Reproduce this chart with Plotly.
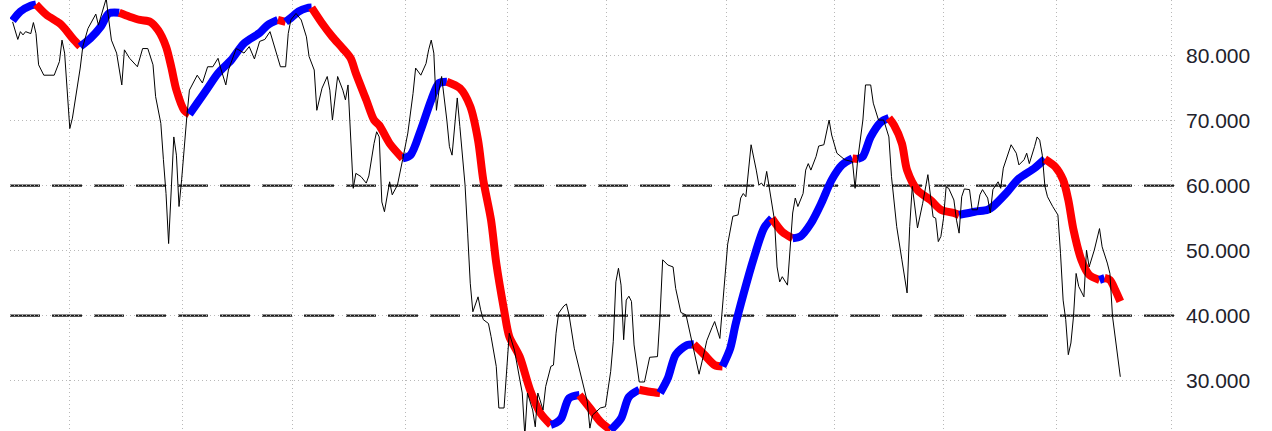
import plotly.graph_objects as go

# ---- data ----
bar_index = [1, 3, 4, 5, 6, 8, 9, 10, 11, 13, 17, 19, 20, 21, 23, 24, 27, 28, 30, 33, 34, 36, 37, 38, 39, 41, 43, 44, 46, 49,
             51, 53, 55, 56, 58, 59, 60, 61, 62, 63, 64, 65, 66, 67, 68, 69, 70, 72, 74, 76, 78, 80, 81, 83, 84, 87, 88, 90, 92, 94,
             96, 98, 100, 102, 104, 106, 107, 108, 110, 112, 114, 115, 117, 118, 120, 122, 123, 124, 126, 128, 129, 130, 131, 132, 133, 135, 137, 138, 140, 141,
             142, 143, 144, 145, 146, 147, 149, 151, 153, 155, 156, 158, 160, 161, 162, 163, 164, 165, 166, 168, 169, 170, 171, 172, 173, 175, 176, 177, 178, 180,
             181, 182, 184, 185, 187, 188, 190, 191, 192, 194, 196, 197, 198, 199, 201, 202, 203, 205, 206, 208, 209, 210, 211, 213, 214, 215, 217, 220, 222, 223,
             224, 227, 229, 231, 232, 233, 234, 235, 236, 237, 238, 239, 240, 242, 244, 246, 249, 250, 251, 253, 255, 256, 258, 260, 261, 263, 265, 267, 268, 270,
             271, 273, 274, 275, 276, 278, 280, 281, 282, 283, 284, 285, 287, 288, 289, 290, 291, 292, 294, 295, 296, 297, 299, 301, 302, 303, 305, 306, 307, 308,
             310, 311, 313, 315, 316, 318, 319, 321, 324, 325, 326, 328, 329, 331, 332, 334, 336, 338, 339, 341, 343, 345, 346, 347, 349, 351, 353, 355, 356, 357,
             358, 359, 360, 361, 363, 364, 365, 366, 367, 369, 370, 372, 373, 374, 376, 377, 378, 380, 381, 382, 385, 387, 388, 390, 391, 392, 394, 395, 396, 397,
             398, 399, 401, 403, 404, 405, 406, 407, 408, 409, 410, 411, 413, 414, 415, 417, 419, 420, 422, 423, 424, 426, 427]
rsi_values = [85.2, 82.5, 83.7, 83.2, 83.7, 83.4, 85.1, 83.4, 78.6, 77.0, 77.0, 79.1, 82.4, 80.4, 68.8, 70.4, 78.1, 81.4, 84.2, 86.4, 84.7, 87.5, 88.8, 85.5, 82.4, 80.4, 75.5, 80.9, 79.6, 78.3,
              81.1, 81.1, 78.6, 73.7, 69.6, 64.0, 58.8, 51.1, 58.8, 67.5, 64.7, 56.8, 60.9, 66.5, 70.6, 74.7, 75.5, 77.0, 75.8, 78.3, 78.3, 79.6, 78.1, 75.5, 77.8, 81.1, 80.9, 80.4, 81.4, 79.5,
              82.2, 82.5, 83.7, 80.9, 78.3, 78.3, 83.4, 85.5, 86.5, 85.5, 82.9, 79.9, 77.8, 71.6, 75.0, 76.8, 74.7, 70.1, 76.8, 74.7, 73.2, 75.5, 68.1, 59.6, 61.9, 61.4, 60.4, 61.5, 66.5, 68.3,
              67.5, 57.5, 56.0, 58.3, 60.6, 58.6, 60.1, 64.0, 68.1, 74.2, 78.1, 77.0, 78.8, 80.9, 82.4, 80.4, 71.6, 74.7, 76.8, 70.1, 66.0, 64.7, 69.1, 73.5, 69.1, 60.1, 52.7, 45.0, 40.6, 42.9,
              40.9, 39.4, 38.8, 36.8, 32.2, 25.8, 25.8, 32.2, 37.3, 34.7, 30.6, 28.1, 21.5, 28.1, 25.5, 22.9, 28.1, 25.5, 29.1, 32.2, 32.4, 37.3, 40.4, 41.5, 41.8, 40.1, 35.0, 29.8, 26.8, 22.7,
              24.7, 25.8, 26.0, 31.4, 36.0, 45.2, 47.3, 44.7, 36.3, 42.4, 43.0, 42.2, 35.5, 29.8, 29.8, 33.6, 33.7, 40.1, 48.6, 47.8, 47.5, 44.2, 40.5, 40.1, 38.3, 35.0, 31.0, 34.4, 36.2, 38.2,
              39.1, 36.5, 41.0, 45.2, 51.0, 55.3, 55.5, 58.1, 58.8, 58.3, 62.2, 66.3, 62.4, 60.1, 60.4, 59.9, 62.2, 59.9, 54.7, 47.5, 45.2, 46.0, 44.7, 55.8, 58.1, 56.8, 58.8, 62.4, 63.4, 62.4,
              64.5, 66.1, 66.3, 70.1, 67.8, 65.0, 64.7, 64.0, 63.7, 59.6, 64.0, 70.1, 75.5, 75.5, 72.7, 70.1, 70.1, 67.5, 61.4, 53.7, 48.6, 43.5, 53.7, 59.9, 53.5, 57.3, 61.7, 55.2, 55.0, 51.4,
              52.2, 55.0, 59.8, 59.6, 57.8, 54.7, 52.7, 58.3, 59.5, 59.4, 56.3, 56.3, 58.6, 59.4, 58.1, 55.8, 59.4, 60.6, 59.6, 62.7, 66.3, 65.0, 63.2, 64.0, 65.0, 63.4, 66.0, 67.5, 67.0, 64.7,
              59.9, 58.3, 56.8, 55.5, 49.6, 42.4, 39.4, 34.0, 35.8, 39.9, 46.5, 44.5, 42.9, 50.1, 47.5, 50.1, 53.4, 50.6, 48.1, 46.5, 39.9, 34.2, 30.6]

smooth_index = [1, 4, 8, 10, 14, 19, 21, 24, 27, 31, 35, 38, 42, 46, 50, 54, 57, 60, 62, 64, 67, 69, 72, 76, 80, 85, 90, 96, 99, 103,
                106, 108, 111, 114, 116, 120, 124, 128, 131, 133, 137, 140, 142, 146, 151, 154, 158, 162, 165, 168, 173, 177, 180, 182, 185, 187, 190, 192, 196, 200,
                204, 208, 210, 212, 215, 219, 223, 227, 231, 235, 238, 242, 246, 250, 253, 256, 260, 263, 267, 271, 274, 277, 279, 282, 286, 290, 293, 297, 301, 304,
                308, 312, 316, 320, 324, 326, 328, 331, 335, 338, 340, 343, 345, 349, 354, 358, 363, 365, 371, 376, 378, 383, 388, 394, 398, 402, 405, 407, 409, 412,
                415, 419, 421, 423, 425, 427]
smooth_values = [85.4, 86.8, 87.7, 87.9, 86.3, 85.0, 84.2, 82.7, 81.4, 82.7, 84.5, 86.5, 86.6, 86.0, 85.5, 85.2, 83.9, 81.4, 78.3, 74.7, 71.6, 71.0, 72.7, 75.0, 77.3, 79.3, 81.9, 83.5, 84.7, 85.5,
                 85.2, 85.8, 86.8, 87.3, 87.4, 85.0, 82.9, 81.1, 79.6, 77.3, 73.2, 70.1, 69.3, 66.5, 64.2, 64.7, 68.6, 73.2, 75.8, 76.0, 75.0, 72.2, 67.0, 60.9, 54.7, 48.1, 40.9, 36.8, 33.7, 28.6,
                 25.0, 23.2, 23.5, 24.2, 27.3, 27.8, 25.8, 23.7, 22.4, 24.2, 27.5, 28.6, 28.3, 28.1, 30.4, 34.0, 35.4, 35.6, 34.0, 32.4, 32.2, 35.0, 38.6, 43.2, 48.8, 53.5, 55.0, 52.9, 51.9, 52.2,
                 54.2, 57.3, 60.9, 63.2, 64.2, 64.1, 64.5, 67.5, 69.8, 70.4, 69.3, 66.5, 62.4, 59.3, 57.8, 56.3, 55.8, 55.5, 56.0, 56.3, 56.8, 58.8, 61.1, 62.7, 64.1, 62.9, 60.9, 57.8, 53.2, 48.6,
                 46.3, 45.5, 45.8, 45.5, 44.0, 42.2]

y_ticks = [30, 40, 50, 60, 70, 80]
y_tick_labels = ["30.000", "40.000", "50.000", "60.000", "70.000", "80.000"]
month_ticks = [23, 66.5, 108.5, 152, 191.5, 229.5, 275.5, 317, 359, 402.5, 446.5]
band_levels = [60, 40]

UP_COLOR = "#0000ff"
DOWN_COLOR = "#ff0000"

fig = go.Figure()

# thick smoothed line, coloured by direction (rising = blue, falling = red)
runs = []
for k in range(1, len(smooth_values)):
    col = UP_COLOR if smooth_values[k] >= smooth_values[k - 1] else DOWN_COLOR
    if runs and runs[-1][0] == col:
        runs[-1][1].append(k)
    else:
        runs.append([col, [k - 1, k]])
for col, idx in runs:
    fig.add_trace(go.Scatter(
        x=[smooth_index[i] for i in idx],
        y=[smooth_values[i] for i in idx],
        mode="lines",
        line=dict(color=col, width=8, shape="spline", smoothing=0.8),
        hoverinfo="skip", showlegend=False,
    ))

# thin oscillator line
fig.add_trace(go.Scatter(
    x=bar_index, y=rsi_values, mode="lines",
    line=dict(color="#000000", width=1),
    showlegend=False,
))

for lvl in band_levels:
    fig.add_shape(type="line", xref="paper", x0=0, x1=1, yref="y", y0=lvl, y1=lvl,
                  line=dict(color="#1e1e1e", width=2.2, dash="30px,12px"), layer="between")

grid_color = "#b8b8b8"
fig.update_layout(
    width=1272, height=431,
    margin=dict(l=10, r=95, t=0, b=0),
    paper_bgcolor="white", plot_bgcolor="white",
    showlegend=False,
    xaxis=dict(range=[0, 448.8], tickvals=month_ticks, showticklabels=False, ticks="",
               showgrid=True, gridcolor=grid_color, gridwidth=1, griddash="1px,3px",
               zeroline=False, showline=False, fixedrange=True),
    yaxis=dict(range=[22.26, 88.57], side="right", tickvals=y_ticks, ticktext=y_tick_labels,
               tickfont=dict(family="Liberation Sans, Arial, sans-serif", size=21, color="#22222c"),
               showgrid=True, gridcolor=grid_color, gridwidth=1, griddash="1px,3px",
               zeroline=False, showline=False, ticks="", ticklabelstandoff=8,
               automargin=False, fixedrange=True),
)

fig.write_html("out.html", config={"displayModeBar": False},
               post_script="document.body.style.margin='0';document.body.style.overflow='hidden';")
